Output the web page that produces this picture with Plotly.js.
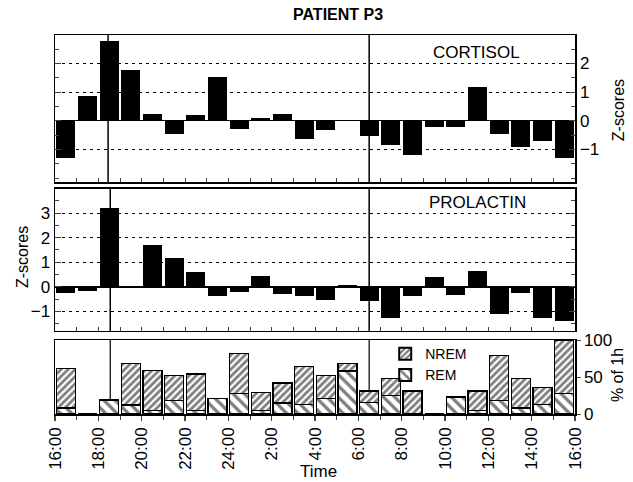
<!DOCTYPE html>
<html>
<head>
<meta charset="utf-8">
<script src="https://cdn.plot.ly/plotly-3.0.1.min.js"></script>
<style>html,body{margin:0;padding:0;background:#fff;}#chart{width:633px;height:482px;}</style>
</head>
<body>
<div id="chart"></div>
<script>
// Hour slots from 16:00 (0) to 16:00 next day (24); bars at mid-hour
var hours = [0.5,1.5,2.5,3.5,4.5,5.5,6.5,7.5,8.5,9.5,10.5,11.5,12.5,13.5,14.5,15.5,16.5,17.5,18.5,19.5,20.5,21.5,22.5,23.5];
var cortisol = [-1.29,0.86,2.79,1.76,0.23,-0.46,0.21,1.51,-0.28,0.11,0.25,-0.65,-0.33,0,-0.53,-0.85,-1.2,-0.21,-0.21,1.19,-0.47,-0.91,-0.7,-1.31];
var prolactin = [-0.24,-0.18,3.22,0.03,1.70,1.18,0.60,-0.35,-0.22,0.44,-0.29,-0.35,-0.52,0.07,-0.59,-1.26,-0.35,0.42,-0.32,0.66,-1.12,-0.24,-1.26,-1.40];
var rem  = [8,0,19,12,5,18,5,21,28,5,15,13,21,58,16,25,0,0,23,5,18,8,13,28];
var nrem = [54,0,0,56,54,34,49,0,54,24,27,51,31,10,15,23,31,0,0,26,61,40,23,72];
var tickVals = [0,2,4,6,8,10,12,14,16,18,20,22,24];
var tickText = ['16:00','18:00','20:00','22:00','24:00','2:00','4:00','6:00','8:00','10:00','12:00','14:00','16:00'];
var hourTicks = [0,1,2,3,4,5,6,7,8,9,10,11,12,13,14,15,16,17,18,19,20,21,22,23,24];
var markerLines = [2.45, 14.5];

var FONT = 'Liberation Sans, Arial, sans-serif';
var BW = 0.87;

var traces = [
  {type:'bar', x:hours, y:cortisol, xaxis:'x2', yaxis:'y', width:BW,
   marker:{color:'black', line:{width:0}}, showlegend:false, hoverinfo:'skip'},
  {type:'bar', x:hours, y:prolactin, xaxis:'x3', yaxis:'y2', width:BW,
   marker:{color:'black', line:{width:0}}, showlegend:false, hoverinfo:'skip'},
  {type:'bar', name:'REM', x:hours, y:rem, xaxis:'x', yaxis:'y3', width:BW,
   marker:{color:'white', line:{color:'black', width:1.3},
     pattern:{shape:'\\', fgcolor:'black', bgcolor:'white', size:8, solidity:0.4, fillmode:'overlay'}},
   hoverinfo:'skip'},
  {type:'bar', name:'NREM', x:hours, y:nrem, xaxis:'x', yaxis:'y3', width:BW,
   marker:{color:'white', line:{color:'black', width:1.3},
     pattern:{shape:'/', fgcolor:'black', bgcolor:'white', size:5, solidity:0.55, fillmode:'overlay'}},
   hoverinfo:'skip'}
];

var gridStyle = {showgrid:true, gridcolor:'black', gridwidth:1, griddash:'3px,4px'};

function ann(text, x, y, size, angle) {
  return {text:text, xref:'paper', yref:'paper', x:x, y:y, xanchor:'center', yanchor:'middle',
          showarrow:false, textangle:angle || 0, font:{size:size}};
}

var layout = {
  width:633, height:482,
  margin:{l:55, r:58, t:35, b:68},
  paper_bgcolor:'white', plot_bgcolor:'white',
  font:{family:FONT, size:15, color:'black'},
  barmode:'stack', bargap:0.1,
  showlegend:true,
  legend:{x:0.635, y:0.2, xanchor:'left', yanchor:'top', traceorder:'reversed',
          bgcolor:'rgba(0,0,0,0)', font:{size:14, family:FONT}, tracegroupgap:0, itemsizing:'constant'},
  xaxis:{domain:[0,1], anchor:'y3', range:[0,24], tickmode:'array', tickvals:tickVals, ticktext:tickText,
         tickangle:-90, ticks:'outside', ticklen:5, tickwidth:1.5, tickfont:{size:17},
         minor:{tickmode:'array', tickvals:hourTicks, ticks:'outside', ticklen:4, tickwidth:1},
         showline:true, linewidth:1.5, linecolor:'black', mirror:true, showgrid:false, zeroline:false, fixedrange:true},
  xaxis2:{domain:[0,1], anchor:'y', range:[0,24], matches:'x', tickmode:'array', tickvals:hourTicks,
         ticks:'inside', ticklen:4, showticklabels:false, showline:true, linewidth:1.5, linecolor:'black',
         mirror:true, showgrid:false, zeroline:false},
  xaxis3:{domain:[0,1], anchor:'y2', range:[0,24], matches:'x', tickmode:'array', tickvals:hourTicks,
         ticks:'inside', ticklen:4, showticklabels:false, showline:true, linewidth:1.5, linecolor:'black',
         mirror:true, showgrid:false, zeroline:false},
  yaxis:Object.assign({domain:[0.612,1], anchor:'x2', side:'right', range:[-2.14,2.99],
         tickmode:'array', tickvals:[-1,0,1,2], ticks:'inside', ticklen:6, tickfont:{size:17},
         minor:{dtick:0.5, tick0:0, ticks:'inside', ticklen:4},
         showline:true, linewidth:1.5, linecolor:'black', mirror:'ticks',
         zeroline:true, zerolinecolor:'black', zerolinewidth:1.5}, gridStyle),
  yaxis2:Object.assign({domain:[0.219,0.594], anchor:'x3', side:'left', range:[-1.79,3.98],
         tickmode:'array', tickvals:[-1,0,1,2,3], ticks:'inside', ticklen:6, tickfont:{size:17},
         minor:{dtick:0.5, tick0:0, ticks:'inside', ticklen:4},
         showline:true, linewidth:1.5, linecolor:'black', mirror:'ticks',
         zeroline:true, zerolinecolor:'black', zerolinewidth:1.5}, gridStyle),
  yaxis3:{domain:[0,0.195], anchor:'x', side:'right', range:[0,100],
         tickmode:'array', tickvals:[0,50,100], ticks:'outside', ticklen:4, tickfont:{size:17},
         showline:true, linewidth:1.5, linecolor:'black', mirror:true, showgrid:false, zeroline:false},
  shapes:[
    {type:'line', xref:'x2', yref:'y domain', x0:markerLines[0], x1:markerLines[0], y0:0, y1:1, line:{color:'black', width:1.5}},
    {type:'line', xref:'x2', yref:'y domain', x0:markerLines[1], x1:markerLines[1], y0:0, y1:1, line:{color:'black', width:1.5}},
    {type:'line', xref:'x3', yref:'y2 domain', x0:markerLines[0]+0.1, x1:markerLines[0]+0.1, y0:0, y1:1, line:{color:'black', width:1.5}},
    {type:'line', xref:'x3', yref:'y2 domain', x0:markerLines[1], x1:markerLines[1], y0:0, y1:1, line:{color:'black', width:1.5}},
    {type:'line', xref:'x', yref:'y3 domain', x0:markerLines[0]+0.1, x1:markerLines[0]+0.1, y0:0, y1:1, layer:'below', line:{color:'black', width:1.2}},
    {type:'line', xref:'x', yref:'y3 domain', x0:markerLines[1], x1:markerLines[1], y0:0, y1:1, layer:'below', line:{color:'black', width:1.2}}
  ],
  annotations:[
    ann('<b>PATIENT P3</b>', 0.544, 1.055, 16),
    ann('CORTISOL', 0.8115, 0.955, 17),
    ann('PROLACTIN', 0.813, 0.557, 17),
    ann('Z-scores', 1.083, 0.802, 16, -90),
    ann('Z-scores', -0.0635, 0.414, 16, -90),
    ann('% of 1h', 1.083, 0.103, 16, -90),
    ann('Time', 0.506, -0.153, 17)
  ]
};

Plotly.newPlot('chart', traces, layout, {staticPlot:true, displayModeBar:false});
</script>
</body>
</html>
